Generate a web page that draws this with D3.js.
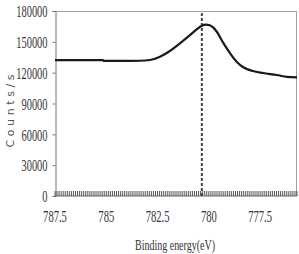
<!DOCTYPE html>
<html>
<head>
<meta charset="utf-8">
<script src="https://cdn.jsdelivr.net/npm/d3@7"></script>
<style>
html,body{margin:0;padding:0;background:#fff;}
svg{display:block;}
</style>
</head>
<body>
<svg id="chart" width="299" height="254"></svg>
<script>
// Data
const energy = [787.5, 786.3, 785.16, 785.11, 784.2, 783.36, 782.87, 782.38, 781.90, 781.41, 780.92, 780.58, 780.34, 780.15, 779.95, 779.78, 779.61, 779.31, 778.97, 778.63, 778.34, 777.85, 777.36, 776.68, 776.19, 775.7];
const counts = [132300, 132300, 132300, 131400, 131500, 131600, 132300, 135500, 141100, 148500, 156500, 162300, 165600, 166800, 166200, 163800, 159800, 149500, 139100, 130400, 125500, 121600, 119700, 117700, 115900, 115500];
const peakEnergy = [780.34];
const xTicks = [787.5, 785, 782.5, 780, 777.5];
const xTickLabels = ["787.5", "785", "782.5", "780", "777.5"];
const yTicks = [0, 30000, 60000, 90000, 120000, 150000, 180000];
const xDomain = [787.5, 775.7];
const yDomain = [0, 180000];

const svg = d3.select("#chart");
const L = 55, R = 297, T = 11, B = 196;
const x = d3.scaleLinear().domain(xDomain).range([L, R]);
const y = d3.scaleLinear().domain(yDomain).range([B, T]);

const serif = "'Liberation Serif', 'DejaVu Serif', serif";

function condense(sel, ratio) {
  sel.each(function() {
    const w = this.getComputedTextLength();
    this.setAttribute("textLength", w * ratio);
    this.setAttribute("lengthAdjust", "spacingAndGlyphs");
  });
}

// frame top and right
svg.append("line").attr("x1", L).attr("x2", R).attr("y1", T + 0.5).attr("y2", T + 0.5)
  .attr("stroke", "#a0a0a0").attr("stroke-width", 1);
svg.append("line").attr("x1", R - 0.5).attr("x2", R - 0.5).attr("y1", T).attr("y2", B)
  .attr("stroke", "#a0a0a0").attr("stroke-width", 1);

// y axis
const yAxis = d3.axisLeft(y).tickValues(yTicks).tickSize(3).tickFormat(d3.format("d"));
const gy = svg.append("g").attr("transform", `translate(${L + 0.5},0)`).call(yAxis);
gy.select(".domain").attr("stroke", "#777");
gy.selectAll(".tick line").attr("stroke", "#777");
gy.selectAll(".tick text").attr("font-family", serif).attr("font-size", 16)
  .attr("fill", "#333").attr("x", -8).attr("dy", "0.36em");
condense(gy.selectAll(".tick text"), 0.65);

// x axis with dense inward minor ticks
const minor = d3.range(787.5, 775.65, -0.1);
const gx = svg.append("g").attr("transform", `translate(0,${B})`);
gx.append("line").attr("x1", L).attr("x2", R).attr("y1", 0).attr("y2", 0).attr("stroke", "#666");
gx.selectAll("line.minor").data(minor).join("line").attr("class", "minor")
  .attr("x1", d => x(d)).attr("x2", d => x(d)).attr("y1", 0).attr("y2", -5)
  .attr("stroke", "#555").attr("stroke-width", 1);
const xl = gx.selectAll("text.xl").data(xTicks).join("text").attr("class", "xl")
  .attr("x", d => x(d)).attr("y", 26).attr("text-anchor", "middle")
  .attr("font-family", serif).attr("font-size", 16).attr("fill", "#333")
  .text((d, i) => xTickLabels[i]);
condense(xl, 0.66);

// dashed peak line
svg.selectAll("line.peak").data(peakEnergy).join("line").attr("class", "peak")
  .attr("x1", d => x(d)).attr("x2", d => x(d)).attr("y1", 13).attr("y2", B)
  .attr("stroke", "#444").attr("stroke-width", 2).attr("stroke-dasharray", "3,2");

// curve
const line = d3.line().x((d, i) => x(energy[i])).y(d => y(d)).curve(d3.curveMonotoneX);
svg.append("path").datum(counts).attr("d", line)
  .attr("fill", "none").attr("stroke", "#1a1a1a").attr("stroke-width", 2.2);

// axis titles
const xt = svg.append("text").attr("x", 175).attr("y", 250).attr("text-anchor", "middle")
  .attr("font-family", serif).attr("font-size", 14).attr("fill", "#333")
  .text("Binding energy(eV)");
xt.attr("textLength", 80).attr("lengthAdjust", "spacingAndGlyphs");

svg.append("text").attr("transform", "translate(14,111) rotate(-90)")
  .attr("text-anchor", "middle").attr("font-family", "'DejaVu Sans', sans-serif")
  .attr("font-size", 11).attr("fill", "#555")
  .attr("textLength", 73).attr("lengthAdjust", "spacing")
  .text("Counts/s");
</script>
</body>
</html>
